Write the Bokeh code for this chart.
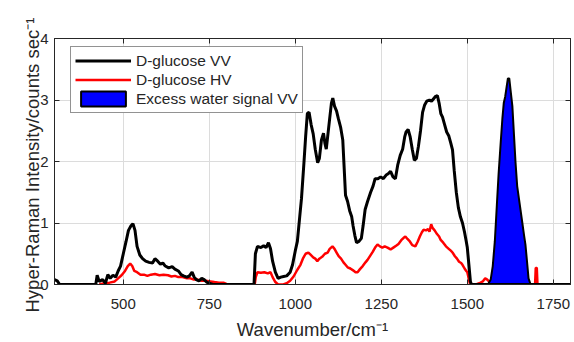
from bokeh.plotting import figure
from bokeh.models import Range1d, FixedTicker, LinearAxis, Legend, LegendItem, Title
from bokeh.embed import file_html
from bokeh.resources import INLINE

nan = float("nan")

# D-glucose VV (wavenumber / cm^-1, intensity / counts sec^-1)
vv_x = [300, 308, 315, 420, 424, 430, 440, 448, 455, 462, 470, 478, 485, 492, 500, 508, 515, 522, 528, 534,
        540, 548, 556, 565, 575, 585, 592, 600, 608, 615, 622, 632, 642, 650, 660, 668, 675, 685, 692, 700,
        706, 712, 720, 728, 735, 742, 750, 760, 880, 884, 890, 900, 908, 915, 922, 928, 934, 942, 950, 958,
        966, 975, 985, 992, 1000, 1006, 1012, 1018, 1025, 1030, 1035, 1040, 1046, 1052, 1058, 1065, 1070,
        1076, 1082, 1086, 1090, 1094, 1100, 1105, 1109, 1114, 1120, 1125, 1132, 1138, 1142, 1146, 1152,
        1158, 1164, 1168, 1173, 1178, 1185, 1192, 1197, 1203, 1210, 1219, 1226, 1232, 1240, 1248, 1256,
        1264, 1270, 1277, 1284, 1291, 1298, 1305, 1312, 1318, 1322, 1328, 1334, 1340, 1346, 1352, 1358,
        1364, 1370, 1376, 1382, 1390, 1396, 1402, 1408, 1413, 1418, 1423, 1428, 1434, 1440, 1446, 1452,
        1457, 1462, 1468, 1474, 1480, 1486, 1492, 1497, 1500, 1505, 1509, 1512, 1800]
vv_y = [0.08, 0.06, 0.0, 0.0, 0.15, 0.05, 0.08, 0.02, 0.16, 0.1, 0.15, 0.12, 0.22, 0.3, 0.5, 0.7, 0.88, 0.95, 0.99, 0.88,
        0.62, 0.48, 0.42, 0.38, 0.36, 0.35, 0.42, 0.38, 0.33, 0.35, 0.3, 0.27, 0.29, 0.25, 0.22, 0.16, 0.14, 0.12, 0.14, 0.2,
        0.12, 0.08, 0.06, 0.1, 0.08, 0.04, 0.02, 0.0, 0.0, 0.5, 0.62, 0.6, 0.63, 0.6, 0.68, 0.58, 0.38, 0.2, 0.1, 0.12,
        0.13, 0.14, 0.2, 0.32, 0.55, 0.7, 1.05, 1.4, 1.97, 2.4, 2.78, 2.8, 2.6, 2.45, 2.2, 1.98, 2.05,
        2.35, 2.46, 2.3, 2.2, 2.4, 2.7, 2.95, 3.03, 2.9, 2.82, 2.7, 2.55, 2.35, 1.9, 1.45, 1.35,
        1.2, 1.1, 0.95, 0.8, 0.68, 0.7, 0.75, 0.95, 1.22, 1.35, 1.5, 1.6, 1.72, 1.72, 1.75, 1.72,
        1.78, 1.8, 1.84, 1.75, 1.72, 1.95, 2.1, 2.2, 2.4, 2.48, 2.52, 2.4, 2.2, 2.02, 2.05, 2.25,
        2.5, 2.8, 2.92, 2.98, 3.0, 2.98, 3.02, 3.06, 3.07, 2.95, 2.78, 2.72, 2.6, 2.48, 2.42, 2.3,
        2.19, 1.85, 1.5, 1.25, 1.1, 1.0, 0.85, 0.7, 0.6, 0.3, 0.05, 0.0, 0.0]

# D-glucose HV
hv_x = [430, 445, 460, 475, 485, 495, 505, 513, 520, 526, 532, 540, 550, 560, 570, 580, 592, 605, 617, 630,
        640, 650, 660, 672, 685, 695, 705, 716, 728, 740, 753, 765, 778, 791, 800, 840,
        882, 885, 890, 900, 910, 920, 928, 934, 942, 950, 965, 975, 985, 995, 1006, 1015, 1022, 1030,
        1038, 1045, 1052, 1058, 1064, 1070, 1078, 1086, 1094, 1100, 1108, 1114, 1120, 1126, 1133, 1140,
        1146, 1152, 1160, 1168, 1175, 1181, 1188, 1196, 1204, 1210, 1218, 1225, 1232, 1239, 1246, 1253,
        1260, 1268, 1277, 1285, 1293, 1300, 1308, 1315, 1320, 1326, 1333, 1340, 1349, 1356, 1362, 1368,
        1373, 1380, 1386, 1390, 1395, 1399, 1405, 1412, 1418, 1422, 1430, 1438, 1446, 1452, 1457, 1464,
        1470, 1476, 1482, 1486, 1492, 1497, 1500, 1504, 1508, 1525, 1535, 1545, 1552, 1558, 1565, 1570,
        1630, 1690, 1697, 1699, 1702, 1704, 1710]
hv_y = [0.0, 0.02, 0.03, 0.05, 0.1, 0.15, 0.22, 0.3, 0.34, 0.3, 0.22, 0.2, 0.16, 0.16, 0.14, 0.16, 0.17, 0.15, 0.16, 0.15,
        0.13, 0.14, 0.12, 0.12, 0.1, 0.1, 0.08, 0.08, 0.06, 0.06, 0.05, 0.04, 0.03, 0.03, 0.01, nan,
        0.0, 0.12, 0.2, 0.19, 0.2, 0.18, 0.2, 0.12, 0.04, 0.0, 0.0, 0.02, 0.06, 0.13, 0.24, 0.32, 0.42, 0.5,
        0.52, 0.48, 0.44, 0.42, 0.38, 0.42, 0.45, 0.5, 0.52, 0.58, 0.62, 0.58, 0.52, 0.46, 0.42, 0.36,
        0.32, 0.28, 0.26, 0.23, 0.2, 0.2, 0.25, 0.3, 0.36, 0.4, 0.47, 0.53, 0.6, 0.65, 0.62, 0.6,
        0.62, 0.6, 0.57, 0.6, 0.63, 0.66, 0.72, 0.76, 0.78, 0.74, 0.7, 0.64, 0.62, 0.7, 0.78, 0.85,
        0.89, 0.88, 0.9, 0.86, 0.98, 0.92, 0.88, 0.82, 0.78, 0.73, 0.68, 0.62, 0.58, 0.55, 0.52, 0.46,
        0.42, 0.37, 0.35, 0.32, 0.26, 0.22, 0.2, 0.1, 0.0, 0.0, 0.02, 0.05, 0.1, 0.08, 0.04, 0.0,
        nan, 0.0, 0.0, 0.27, 0.27, 0.0, 0.0]

# Excess water signal VV
water_x = [1560, 1568, 1574, 1580, 1586, 1591, 1597, 1602, 1606, 1610, 1614, 1618, 1622, 1626, 1631,
           1636, 1640, 1645, 1650, 1655, 1660, 1665, 1669, 1674, 1678, 1684]
water_y = [0.0, 0.08, 0.3, 0.7, 1.3, 1.8, 2.3, 2.7, 2.95, 3.05, 3.2, 3.35, 3.35, 3.15, 2.9,
           2.4, 2.0, 1.6, 1.4, 1.2, 1.0, 0.8, 0.65, 0.35, 0.1, 0.0]

x_ticks = [500, 750, 1000, 1250, 1500, 1750]
y_ticks = [0, 1, 2, 3, 4]

FONT = "Liberation Sans"
TXT = "#262626"

p = figure(width=574, height=342, output_backend="svg", toolbar_location=None,
           x_range=Range1d(300, 1800), y_range=Range1d(0, 4),
           min_border_left=54, min_border_top=38, min_border_right=4, min_border_bottom=57)
p.background_fill_color = "white"
p.border_fill_color = "white"
p.outline_line_color = TXT
p.outline_line_width = 1

for ax, tk in ((p.xaxis[0], x_ticks), (p.yaxis[0], y_ticks)):
    ax.ticker = FixedTicker(ticks=tk)
    ax.major_tick_in = 5
    ax.major_tick_out = 0
    ax.minor_tick_line_color = None
    ax.axis_line_color = TXT
    ax.major_tick_line_color = TXT
    ax.major_label_text_font = FONT
    ax.major_label_text_font_size = "15px"
    ax.major_label_text_color = TXT
p.xaxis[0].major_label_standoff = 14
p.yaxis[0].major_label_standoff = 6

p.xaxis[0].axis_label = "Wavenumber/cm\u207b\u00b9"
p.xaxis[0].axis_label_text_font = FONT
p.xaxis[0].axis_label_text_font_size = "18.5px"
p.xaxis[0].axis_label_text_font_style = "normal"
p.xaxis[0].axis_label_text_color = TXT
p.xaxis[0].axis_label_standoff = 7

top = LinearAxis(ticker=FixedTicker(ticks=x_ticks), major_tick_in=5, major_tick_out=0,
                 minor_tick_line_color=None, axis_line_color=TXT, major_tick_line_color=TXT,
                 major_label_overrides={t: "" for t in x_ticks}, major_label_standoff=0)
right = LinearAxis(ticker=FixedTicker(ticks=y_ticks), major_tick_in=5, major_tick_out=0,
                   minor_tick_line_color=None, axis_line_color=TXT, major_tick_line_color=TXT,
                   major_label_overrides={t: "" for t in y_ticks}, major_label_standoff=0)
p.add_layout(top, "above")
p.add_layout(right, "right")

ylab = Title(text="Hyper-Raman Intensity/counts sec\u207b\u00b9", align="left", offset=-28,
             vertical_align="bottom", standoff=-10, text_font=FONT, text_font_size="18.5px",
             text_font_style="normal", text_color=TXT)
p.add_layout(ylab, "left")

p.xgrid.ticker = FixedTicker(ticks=x_ticks)
p.ygrid.ticker = FixedTicker(ticks=y_ticks)
p.xgrid.grid_line_color = "#dcdcdc"
p.ygrid.grid_line_color = "#dcdcdc"

r_hv = p.line(hv_x, hv_y, line_color="#ff0000", line_width=2.5)
r_w = p.patch(water_x, water_y, fill_color="#0000ff", line_color="black", line_width=2)
r_vv = p.line(vv_x, vv_y, line_color="black", line_width=3)

legend = Legend(items=[LegendItem(label="D-glucose VV", renderers=[r_vv]),
                       LegendItem(label="D-glucose HV", renderers=[r_hv]),
                       LegendItem(label="Excess water signal VV", renderers=[r_w])],
                location=(16, 171), margin=0, padding=4, spacing=0,
                glyph_width=56, glyph_height=19, label_height=19, label_standoff=5,
                label_text_font=FONT, label_text_font_size="15.5px", label_text_color=TXT,
                border_line_color=TXT, border_line_width=1, background_fill_alpha=1)
p.add_layout(legend, "center")

open("out.html", "w").write(file_html(p, INLINE))
